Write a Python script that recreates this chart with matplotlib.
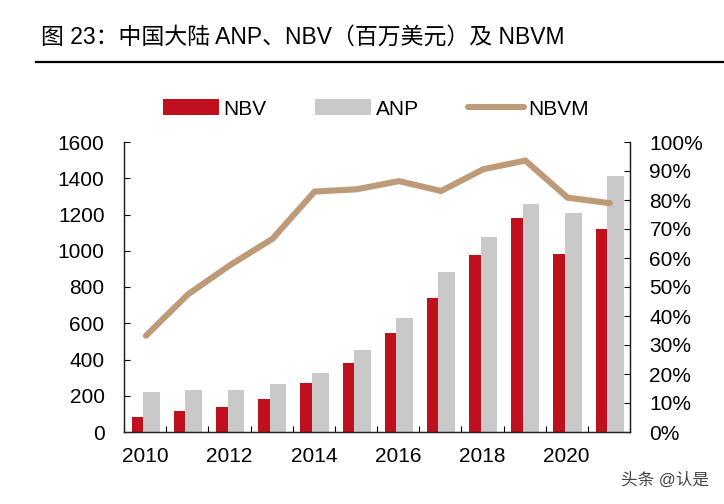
import numpy as np
import matplotlib.pyplot as plt
from matplotlib.ticker import FuncFormatter, FixedLocator

plt.rcParams['font.family'] = ['Liberation Sans', 'Noto Sans CJK SC', 'DejaVu Sans']

# 数据
years = [2010, 2011, 2012, 2013, 2014, 2015, 2016, 2017, 2018, 2019, 2020, 2021]
nbv = [82, 116, 140, 180, 272, 379, 548, 737, 976, 1179, 980, 1118]
anp = [219, 230, 230, 263, 324, 451, 631, 884, 1077, 1258, 1207, 1412]
nbvm = [33.2, 47.5, 57.6, 66.6, 82.9, 83.7, 86.5, 83.1, 90.6, 93.6, 80.8, 78.9]
year_labels = ['2010', '2012', '2014', '2016', '2018', '2020']

red = '#C0101E'
grey = '#C9C9C9'
tan = '#BD9A78'

fig = plt.figure(figsize=(7.24, 5.04), dpi=100)
ax = fig.add_axes([124 / 724, 1 - 432 / 504, (630 - 124) / 724, (432 - 142) / 504])
ax2 = ax.twinx()

x = np.arange(len(years))
b1 = ax.bar(x - 0.317, nbv, width=0.275, align='edge', color=red, zorder=2, label='NBV')
b2 = ax.bar(x - 0.043, anp, width=0.396, align='edge', color=grey, zorder=2, label='ANP')
l1, = ax2.plot(x + 0.02, nbvm, color=tan, lw=4.4, solid_capstyle='round',
               solid_joinstyle='miter', label='NBVM')

ax.set_xlim(-0.5, len(years) - 0.5)
ax.set_ylim(0, 1600)
ax.set_yticks(range(0, 1601, 200))
ax2.set_ylim(0, 100)
ax2.set_yticks(range(0, 101, 10))
ax2.yaxis.set_major_formatter(FuncFormatter(lambda v, p: f'{int(v)}%'))

# x 轴：标签在每两年，刻度线在组之间
ax.set_xticks(x[::2])
ax.set_xticklabels(year_labels)
ax.xaxis.set_minor_locator(FixedLocator(np.arange(-0.5, len(years), 1.0)))
ax.tick_params(axis='x', which='major', length=0, pad=11, labelsize=15)
ax.tick_params(axis='x', which='minor', direction='in', length=4.5, width=0.8)
ax.tick_params(axis='y', direction='in', length=4.5, width=0.8, pad=14, labelsize=15)
ax2.tick_params(axis='y', direction='in', length=4.5, width=0.8, pad=14, labelsize=15)

for a in (ax, ax2):
    a.spines['top'].set_visible(False)
    for s in ('left', 'right', 'bottom'):
        a.spines[s].set_linewidth(0.9)
        a.spines[s].set_color('#222222')

# 图例
fig.legend([b1, b2, l1], ['NBV', 'ANP', 'NBVM'], loc='center',
           bbox_to_anchor=(0.519, 1 - 109 / 504), ncol=3, frameon=False,
           fontsize=15, handlelength=2.7, handleheight=0.77, handletextpad=0.2,
           columnspacing=2.35, borderpad=0, borderaxespad=0)

# 标题和分隔线
fig.text(41 / 724, 1 - 37 / 504, '图 23：中国大陆 ANP、NBV（百万美元）及 NBVM',
         fontsize=16.5, va='center', ha='left')
fig.add_artist(plt.Line2D([36 / 724, 1.0], [1 - 62 / 504, 1 - 62 / 504],
                          color='black', lw=1.6))

fig.text(709 / 724, 1 - 480 / 504, '头条 @认是', fontsize=12, color='#444444',
         ha='right', va='center')

fig.savefig('out.png', dpi=100)
